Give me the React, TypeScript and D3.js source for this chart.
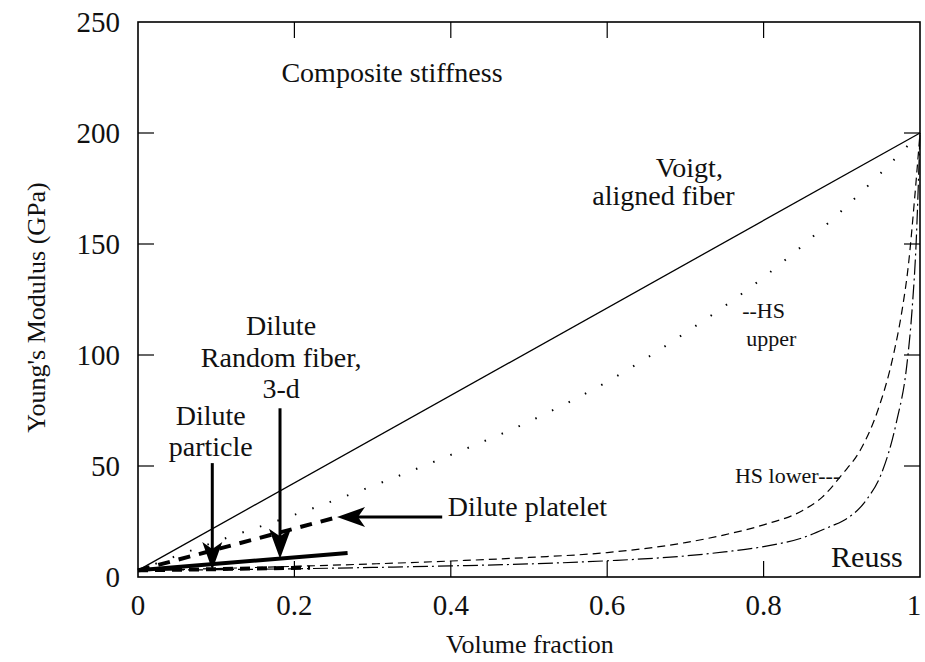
import React from 'react';
import * as d3 from 'd3';

// volume fraction vs Young's modulus (GPa)
const voigtF = [0, 1];
const voigtE = [3, 200];

const hsUpperF = [0, 0.1, 0.2, 0.3, 0.4, 0.5, 0.6, 0.7, 0.8, 0.9, 0.95, 1];
const hsUpperE = [3, 16, 28, 41, 55, 70, 88, 110, 135, 165, 182, 200];

const hsLowerF = [0, 0.1, 0.2, 0.3, 0.4, 0.5, 0.6, 0.7, 0.75, 0.8, 0.85, 0.875, 0.9, 0.925, 0.946, 0.966, 0.977, 0.985, 0.993, 1];
const hsLowerE = [3, 3.8, 4.8, 5.9, 7.2, 8.8, 11, 15.5, 19, 23.5, 30, 36, 46, 58, 75, 100, 120, 140, 170, 200];

const reussF = [0, 0.1, 0.2, 0.3, 0.4, 0.5, 0.6, 0.7, 0.75, 0.8, 0.85, 0.887, 0.9, 0.932, 0.95, 0.97, 0.983, 0.99, 0.995, 1];
const reussE = [3, 3.3, 3.7, 4.3, 5, 5.9, 7.3, 9.5, 11.3, 13.7, 17.7, 23, 25, 35, 46, 70, 95, 121, 150, 200];

const plateletF = [0, 0.25];
const plateletE = [3, 26.5];
const fiberF = [0, 0.268];
const fiberE = [3, 10.8];
const particleF = [0, 0.22];
const particleE = [3, 4.2];

const xTicks = [0, 0.2, 0.4, 0.6, 0.8, 1];
const xTickLabels = ['0', '0.2', '0.4', '0.6', '0.8', '1'];
const yTicks = [0, 50, 100, 150, 200, 250];

const W = 925;
const H = 662;
const m = { left: 138, right: 5, top: 22, bottom: 85 };
const font = 'Liberation Serif, Tinos, Times New Roman, Times, Noto Serif, DejaVu Serif, FreeSerif, serif';

const zip = (f: number[], e: number[]) => f.map((v, i) => [v, e[i]] as [number, number]);

function Arrow({ x1, y1, x2, y2, head = 26, half = 10, width = 3 }: any) {
  const dx = x2 - x1;
  const dy = y2 - y1;
  const len = Math.sqrt(dx * dx + dy * dy);
  const ux = dx / len;
  const uy = dy / len;
  const bx = x2 - ux * head;
  const by = y2 - uy * head;
  const pts = [
    [x2, y2],
    [bx - uy * half, by + ux * half],
    [x2 - ux * head * 0.75, y2 - uy * head * 0.75],
    [bx + uy * half, by - ux * half],
  ];
  return (
    <g>
      <line x1={x1} y1={y1} x2={x2 - ux * head * 0.7} y2={y2 - uy * head * 0.7} stroke="#000" strokeWidth={width} />
      <polygon points={pts.map(p => p.join(',')).join(' ')} fill="#000" />
    </g>
  );
}

export default function App() {
  const x = d3.scaleLinear().domain([0, 1]).range([m.left, W - m.right]);
  const y = d3.scaleLinear().domain([0, 250]).range([H - m.bottom, m.top]);
  const [x0, x1] = x.range();
  const [y0, y1] = y.range();

  const curve = d3
    .line<[number, number]>()
    .x(d => x(d[0]))
    .y(d => y(d[1]))
    .curve(d3.curveMonotoneX);

  const tick = 16;
  const T = ({ size, anchor = 'middle', children, ...rest }: any) => (
    <text
      textAnchor={anchor}
      style={{ fontFamily: font, fontSize: size, fill: '#111' }}
      {...rest}
    >
      {children}
    </text>
  );

  return (
    <svg width={W} height={H} style={{ position: 'absolute', left: 0, top: 0, background: '#fff' }}>
      {/* curves */}
      <path d={curve(zip(voigtF, voigtE)) || ''} fill="none" stroke="#000" strokeWidth={1.3} />
      <path d={curve(zip(hsUpperF, hsUpperE)) || ''} fill="none" stroke="#000" strokeWidth={2} strokeDasharray="1.5 17" />
      <path d={curve(zip(hsLowerF, hsLowerE)) || ''} fill="none" stroke="#000" strokeWidth={1.2} strokeDasharray="8 5" />
      <path d={curve(zip(reussF, reussE)) || ''} fill="none" stroke="#000" strokeWidth={1.2} strokeDasharray="15 4 2 4" />
      <path d={curve(zip(plateletF, plateletE)) || ''} fill="none" stroke="#000" strokeWidth={4} strokeDasharray="12 9" />
      <path d={curve(zip(fiberF, fiberE)) || ''} fill="none" stroke="#000" strokeWidth={4} />
      <path d={curve(zip(particleF, particleE)) || ''} fill="none" stroke="#000" strokeWidth={4} strokeDasharray="10 7" />

      {/* frame */}
      <rect x={x0} y={y1} width={x1 - x0} height={y0 - y1} fill="none" stroke="#000" strokeWidth={1.6} />

      {/* ticks */}
      {xTicks.slice(1, -1).map(t => (
        <g key={'xt' + t}>
          <line x1={x(t)} x2={x(t)} y1={y0} y2={y0 - tick} stroke="#000" strokeWidth={1.2} />
          <line x1={x(t)} x2={x(t)} y1={y1} y2={y1 + tick} stroke="#000" strokeWidth={1.2} />
        </g>
      ))}
      {yTicks.slice(1, -1).map(t => (
        <g key={'yt' + t}>
          <line x1={x0} x2={x0 + tick} y1={y(t)} y2={y(t)} stroke="#000" strokeWidth={1.2} />
          <line x1={x1} x2={x1 - tick} y1={y(t)} y2={y(t)} stroke="#000" strokeWidth={1.2} />
        </g>
      ))}
      {xTicks.map((t, i) => (
        <T key={'xl' + t} x={Math.min(x(t), W - 11)} y={y0 + 38} size={29}>
          {xTickLabels[i]}
        </T>
      ))}
      {yTicks.map(t => (
        <T key={'yl' + t} x={x0 - 18} y={y(t) + 10} size={29} anchor="end">
          {t}
        </T>
      ))}

      {/* axis titles */}
      <T x={530} y={653} size={26}>Volume fraction</T>
      <T transform={`translate(45, ${(y0 + y1) / 2 + 8}) rotate(-90)`} size={26}>
        Young's Modulus (GPa)
      </T>
      <T x={392} y={82} size={28}>Composite stiffness</T>

      {/* annotations */}
      <T x={x(0.705)} y={y(180.2)} size={28}>Voigt,</T>
      <T x={x(0.672)} y={y(167.6)} size={28}>aligned fiber</T>
      <T x={x(0.8)} y={y(116.7)} size={22}>--HS</T>
      <T x={x(0.81)} y={y(104)} size={22}>upper</T>
      <T x={x(0.898)} y={y(42.3)} size={22} anchor="end">HS lower---</T>
      <T x={x(0.978)} y={y(4.5)} size={30} anchor="end">Reuss</T>

      <T x={x(0.183)} y={y(109)} size={28}>Dilute</T>
      <T x={x(0.183)} y={y(94.6)} size={28}>Random fiber,</T>
      <T x={x(0.183)} y={y(80.6)} size={28}>3-d</T>
      <Arrow x1={x(0.1816)} y1={y(76)} x2={x(0.1816)} y2={y(8.2)} head={30} half={11} />

      <T x={x(0.093)} y={y(68.5)} size={28}>Dilute</T>
      <T x={x(0.093)} y={y(54.5)} size={28}>particle</T>
      <Arrow x1={x(0.095)} y1={y(51.3)} x2={x(0.095)} y2={y(3.2)} head={28} half={10} />

      <T x={x(0.396)} y={y(27.5)} size={28} anchor="start">Dilute platelet</T>
      <Arrow x1={x(0.389)} y1={y(27)} x2={x(0.2545)} y2={y(27)} head={28} half={10} />
    </svg>
  );
}
